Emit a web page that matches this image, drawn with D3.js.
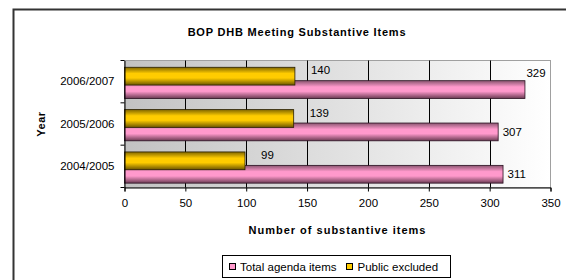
<!DOCTYPE html>
<html>
<head>
<meta charset="utf-8">
<script src="https://cdn.jsdelivr.net/npm/d3@7"></script>
<style>
  body { margin: 0; background: #fff; }
  svg { display: block; font-family: "Liberation Sans", Arial, sans-serif; }
</style>
</head>
<body>
<div id="chart"></div>
<script>
const years = ["2004/2005", "2005/2006", "2006/2007"];
const totalItems = [311, 307, 329];
const publicExcluded = [99, 139, 140];
const xTicks = [0, 50, 100, 150, 200, 250, 300, 350];
const seriesNames = ["Total agenda items", "Public excluded"];

const width = 566, height = 280;
const plot = { left: 124.5, right: 550.5, top: 60.5, bottom: 187.5 };

const svg = d3.select("#chart").append("svg")
  .attr("width", width)
  .attr("height", height);

const defs = svg.append("defs");

// plot background, grey on the left fading to white
const bg = defs.append("linearGradient").attr("id", "bg")
  .attr("x1", 0).attr("x2", 1).attr("y1", 0).attr("y2", 0);
bg.append("stop").attr("offset", "0%").attr("stop-color", "#c2c2c2");
bg.append("stop").attr("offset", "100%").attr("stop-color", "#ffffff");

const barGrad = (id, dark, light, darker) => {
  const g = defs.append("linearGradient").attr("id", id)
    .attr("x1", 0).attr("x2", 0).attr("y1", 0).attr("y2", 1);
  g.append("stop").attr("offset", "0%").attr("stop-color", dark);
  g.append("stop").attr("offset", "35%").attr("stop-color", light);
  g.append("stop").attr("offset", "60%").attr("stop-color", light);
  g.append("stop").attr("offset", "100%").attr("stop-color", darker);
};
barGrad("pinkGrad", "#8a5570", "#ff99cc", "#6a3a52");
barGrad("yellowGrad", "#806600", "#ffcc00", "#6b5500");

// outer chart frame (runs off the picture to the right and bottom)
svg.append("rect")
  .attr("x", 13.5).attr("y", 9.5)
  .attr("width", 600).attr("height", 300)
  .attr("fill", "#fff")
  .attr("stroke", "#333")
  .attr("stroke-width", 2);

const x = d3.scaleLinear().domain([0, 350]).range([plot.left, plot.right]);
const y = d3.scaleBand().domain(years.slice().reverse()).range([plot.top, plot.bottom]);

svg.append("rect")
  .attr("x", plot.left).attr("y", plot.top)
  .attr("width", plot.right - plot.left)
  .attr("height", plot.bottom - plot.top)
  .attr("fill", "url(#bg)")
  .attr("stroke", "#a0a0a0")
  .attr("stroke-width", 1);

// vertical gridlines
svg.append("g")
  .selectAll("line")
  .data(xTicks.filter(d => d > 0 && d < 350))
  .join("line")
  .attr("x1", d => Math.round(x(d)) + 0.5)
  .attr("x2", d => Math.round(x(d)) + 0.5)
  .attr("y1", plot.top)
  .attr("y2", plot.bottom)
  .attr("stroke", "#000")
  .attr("stroke-width", 1);

const rows = years.map((yr, i) => ({ year: yr, total: totalItems[i], pub: publicExcluded[i] }));
const bw = y.bandwidth();
const barH = bw * 0.42;

// pink (total) sits lower and behind, yellow (public excluded) on top
svg.append("g")
  .selectAll("rect")
  .data(rows)
  .join("rect")
  .attr("x", plot.left)
  .attr("y", d => y(d.year) + bw * 0.477)
  .attr("width", d => x(d.total) - plot.left)
  .attr("height", barH)
  .attr("fill", "url(#pinkGrad)")
  .attr("stroke", "#2a1020")
  .attr("stroke-width", 0.8);

svg.append("g")
  .selectAll("rect")
  .data(rows)
  .join("rect")
  .attr("x", plot.left)
  .attr("y", d => y(d.year) + bw * 0.16)
  .attr("width", d => x(d.pub) - plot.left)
  .attr("height", barH)
  .attr("fill", "url(#yellowGrad)")
  .attr("stroke", "#2a2000")
  .attr("stroke-width", 0.8);

// data labels
const labelFont = 11.5;
svg.append("g")
  .selectAll("text")
  .data(rows)
  .join("text")
  .attr("x", d => x(d.pub) + 16)
  .attr("y", d => y(d.year) + bw * 0.16 + barH / 2 - 6)
  .attr("dy", "0.35em")
  .attr("font-size", labelFont)
  .attr("fill", "#000")
  .text(d => d.pub);

svg.append("g")
  .selectAll("text")
  .data(rows)
  .join("text")
  .attr("x", d => x(d.total) + (x(d.total) + 28 > plot.right ? 1.5 : 4.5))
  .attr("y", d => x(d.total) + 28 > plot.right
    ? y(d.year) + 12
    : y(d.year) + bw * 0.477 + barH / 2)
  .attr("dy", "0.35em")
  .attr("font-size", labelFont)
  .attr("fill", "#000")
  .text(d => d.total);

// x axis
const xAxis = svg.append("g")
  .attr("transform", `translate(0,${plot.bottom})`)
  .call(d3.axisBottom(x).tickValues(xTicks).tickSize(4).tickPadding(7));
xAxis.selectAll("text").attr("font-size", labelFont).attr("fill", "#000")
  .attr("font-family", "Liberation Sans, Arial, sans-serif");
xAxis.selectAll("line,path").attr("stroke", "#000");

// y axis: labels centred in bands, ticks on band boundaries
const yAxis = svg.append("g")
  .attr("transform", `translate(${plot.left},0)`)
  .call(d3.axisLeft(y).tickSize(0).tickPadding(10));
yAxis.selectAll("text").attr("font-size", labelFont).attr("fill", "#000")
  .attr("font-family", "Liberation Sans, Arial, sans-serif");
yAxis.select("path").attr("stroke", "#000");

const boundaries = years.map(d => y(d)).concat([plot.bottom]);
svg.append("g")
  .selectAll("line")
  .data(boundaries)
  .join("line")
  .attr("x1", plot.left - 4).attr("x2", plot.left)
  .attr("y1", d => d).attr("y2", d => d)
  .attr("stroke", "#000");

// titles
svg.append("text")
  .attr("x", 297).attr("y", 36)
  .attr("text-anchor", "middle")
  .attr("font-size", 11)
  .attr("font-weight", "bold")
  .attr("letter-spacing", 0.8)
  .text("BOP DHB Meeting Substantive Items");

svg.append("text")
  .attr("x", (plot.left + plot.right) / 2).attr("y", 234)
  .attr("text-anchor", "middle")
  .attr("font-size", 11)
  .attr("font-weight", "bold")
  .attr("letter-spacing", 1)
  .text("Number of substantive items");

svg.append("text")
  .attr("transform", `translate(45,${(plot.top + plot.bottom) / 2}) rotate(-90)`)
  .attr("text-anchor", "middle")
  .attr("font-size", 11)
  .attr("font-weight", "bold")
  .attr("letter-spacing", 0.5)
  .text("Year");

// legend
const legend = svg.append("g");
legend.append("rect")
  .attr("x", 222.5).attr("y", 255.5)
  .attr("width", 228).attr("height", 22)
  .attr("fill", "#fff")
  .attr("stroke", "#000");

const keyColors = ["#ff99cc", "#ffcc00"];
const keyX = [229.5, 346.5];
const textX = [240, 357.5];
seriesNames.forEach((name, i) => {
  legend.append("rect")
    .attr("x", keyX[i]).attr("y", 263.5)
    .attr("width", 6).attr("height", 6)
    .attr("fill", keyColors[i])
    .attr("stroke", "#000");
  legend.append("text")
    .attr("x", textX[i]).attr("y", 266.5)
    .attr("dy", "0.35em")
    .attr("font-size", labelFont)
    .text(name);
});
</script>
</body>
</html>
